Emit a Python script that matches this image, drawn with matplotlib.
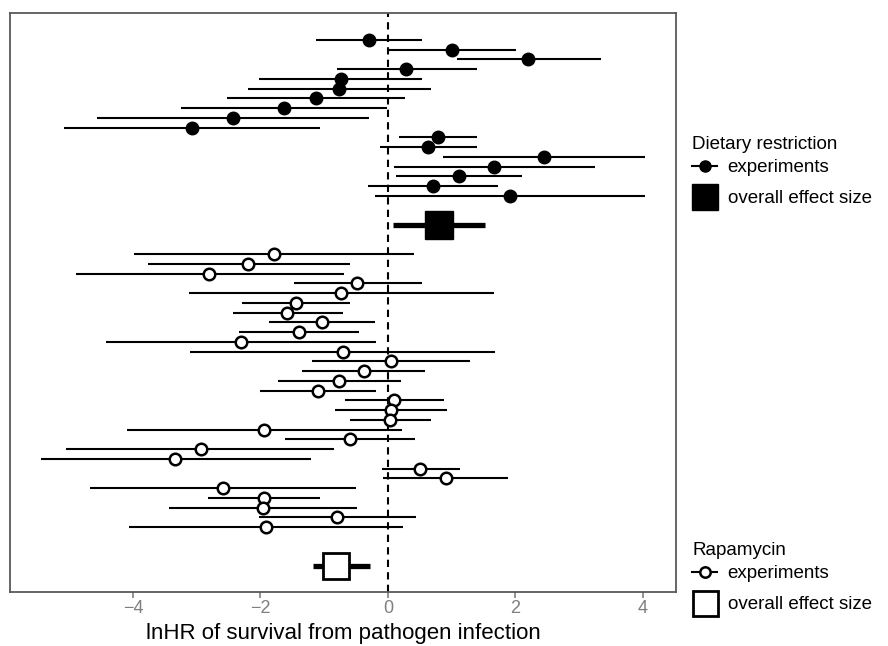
import numpy as np
import matplotlib
matplotlib.use("Agg")
import matplotlib.pyplot as plt
from matplotlib.lines import Line2D

plt.rcParams['font.family'] = ['Liberation Sans', 'DejaVu Sans']

# Dietary restriction experiments (lnHR, lower CI, upper CI)
dr_est = [-0.30, 1.01, 2.20, 0.29, -0.74, -0.77, -1.13, -1.63, -2.43, -3.08,
          0.79, 0.63, 2.45, 1.67, 1.12, 0.71, 1.92]
dr_lo = [-1.13, -0.01, 1.09, -0.80, -2.02, -2.19, -2.53, -3.25, -4.57, -5.09,
         0.18, -0.12, 0.86, 0.09, 0.13, -0.32, -0.20]
dr_hi = [0.54, 2.01, 3.34, 1.39, 0.53, 0.67, 0.27, -0.01, -0.29, -1.07,
         1.39, 1.40, 4.03, 3.25, 2.11, 1.73, 4.04]
dr_overall = 0.80
dr_overall_ci = [0.08, 1.52]

# Rapamycin experiments
rapa_est = [-1.79, -2.19, -2.81, -0.48, -0.73, -1.44, -1.58, -1.03, -1.39, -2.30,
            -0.71, 0.05, -0.38, -0.76, -1.09, 0.10, 0.05, 0.03, -1.94, -0.59,
            -2.94, -3.34, 0.51, 0.91, -2.59, -1.94, -1.96, -0.80, -1.91]
rapa_lo = [-3.99, -3.76, -4.90, -1.48, -3.12, -2.29, -2.43, -1.86, -2.34, -4.43,
           -3.10, -1.19, -1.35, -1.72, -2.00, -0.67, -0.83, -0.60, -4.09, -1.61,
           -5.05, -5.45, -0.10, -0.07, -4.68, -2.82, -3.43, -2.03, -4.06]
rapa_hi = [0.41, -0.60, -0.69, 0.54, 1.67, -0.60, -0.71, -0.20, -0.45, -0.18,
           1.68, 1.29, 0.58, 0.20, -0.18, 0.88, 0.92, 0.68, 0.22, 0.43,
           -0.84, -1.21, 1.13, 1.89, -0.50, -1.06, -0.49, 0.44, 0.24]
rapa_overall = -0.81
rapa_overall_ci = [-1.17, -0.28]

# row layout
dr_y = np.arange(len(dr_est))
dr_sum_y = dr_y[-1] + 3
rapa_y = np.arange(len(rapa_est)) + dr_sum_y + 3
rapa_sum_y = rapa_y[-1] + 4

fig = plt.figure(figsize=(8.88, 6.46), dpi=100)
ax = fig.add_axes([10/888, 1 - 592/646, 666/888, 579/646])

ax.axvline(0, color='black', lw=1.5, ls=(0, (3.5, 2.5)), zorder=1)

ax.hlines(dr_y, dr_lo, dr_hi, color='black', lw=1.5, zorder=2)
ax.plot(dr_est, dr_y, 'o', color='black', markersize=9, zorder=3)
ax.hlines(dr_sum_y, *dr_overall_ci, color='black', lw=3.8, zorder=2)
ax.plot(dr_overall, dr_sum_y, 's', color='black', markersize=19.5, zorder=3)

ax.hlines(rapa_y, rapa_lo, rapa_hi, color='black', lw=1.5, zorder=2)
ax.plot(rapa_est, rapa_y, 'o', mfc='white', mec='black', mew=1.8,
        markersize=8.3, zorder=3)
ax.hlines(rapa_sum_y, *rapa_overall_ci, color='black', lw=3.8, zorder=2)
ax.plot(rapa_overall, rapa_sum_y, 's', mfc='white', mec='black', mew=2,
        markersize=18.5, zorder=3)

ax.set_xlim(-5.93, 4.52)
ax.set_ylim(rapa_sum_y + 2.65, -2.75)
ax.set_xticks([-4, -2, 0, 2, 4])
ax.set_xticklabels(['\u22124', '\u22122', '0', '2', '4'])
ax.set_yticks([])
ax.tick_params(axis='x', colors='#7f7f7f', labelsize=13, length=4, width=1.2,
               pad=2)
ax.set_xlabel('lnHR of survival from pathogen infection', fontsize=16,
              labelpad=4)
for s in ax.spines.values():
    s.set_color('#595959')
    s.set_linewidth(1.3)

dr_handles = [Line2D([], [], color='black', marker='o', markersize=8, lw=1.5),
              Line2D([], [], color='black', marker='s', markersize=19, lw=0)]
rapa_handles = [Line2D([], [], color='black', marker='o', mfc='white',
                       mec='black', mew=1.8, markersize=7.5, lw=1.5),
                Line2D([], [], marker='s', mfc='white', mec='black', mew=2,
                       markersize=18, lw=0)]
labels = ['experiments', 'overall effect size']

leg_kw = dict(loc='upper left', frameon=False, fontsize=13.5,
              title_fontsize=13.5, handlelength=1.35, handletextpad=0.55,
              borderpad=0, borderaxespad=0, labelspacing=0.75,
              alignment='left')
leg1 = fig.legend(dr_handles, labels, title='Dietary restriction',
                  bbox_to_anchor=(692/888, 1 - 136/646), **leg_kw)
leg2 = fig.legend(rapa_handles, labels, title='Rapamycin',
                  bbox_to_anchor=(692/888, 1 - 542/646), **leg_kw)
for leg in (leg1, leg2):
    leg._legend_box.sep = 4.3

fig.savefig('out.png', dpi=100)
